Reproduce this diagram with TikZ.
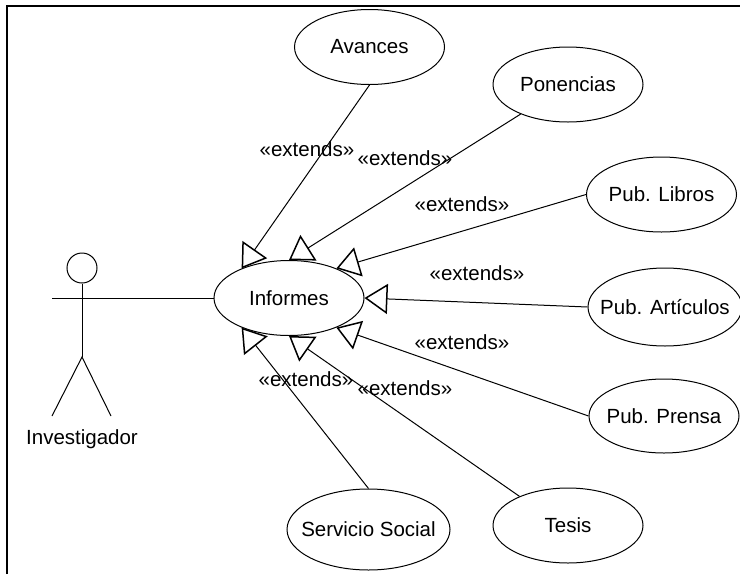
\documentclass[tikz,border=0pt]{standalone}
\usepackage{fontspec}
\setmainfont{Liberation Sans}
\usetikzlibrary{shapes.geometric,arrows.meta}

\begin{document}
\begin{tikzpicture}[x=1pt,y=-1pt,line width=1pt,
	main_node/.style={ellipse,draw,minimum width=150pt,minimum height=75pt,inner sep=-25pt,font=\fontsize{20.5}{24}\selectfont},
	text_node/.style={inner sep=0pt,font=\fontsize{20.5}{24}\selectfont},
	extends_edge/.style={-{Triangle[open,length=23pt,width=30pt,line width=1.5pt]}}]

		\useasboundingbox (0,0) rectangle (740,574);

		% frame
		\coordinate (c1) at (7,574);
		\coordinate (c2) at (7,5.5);
		\coordinate (c3) at (740,5.5);
		\draw[line width=2pt] (c1) -- (c2) -- (c3);

		% use cases
		\node[main_node] (informes) at (289,298){Informes};
		\node[main_node] (avances) at (369.5,47){Avances};
		\node[main_node] (ponencias) at (568,84.5){Ponencias};
		\node[main_node] (libros) at (661.5,194.5){Pub. Libros};
		\node[main_node,minimum width=154pt,minimum height=78pt] (articulos) at (665,307){Pub. Artículos};
		\node[main_node,minimum height=74pt] (prensa) at (664,416){Pub. Prensa};
		\node[main_node] (tesis) at (568,525.5){Tesis};
		\node[main_node,minimum width=163pt,minimum height=81pt] (social) at (368.5,529.5){Servicio Social};

		% actor
		\node[circle,draw,minimum size=30pt,inner sep=0pt] (head) at (82,268){};
		\coordinate (hip) at (82,357);
		\coordinate (arm1) at (52,298);
		\coordinate (arm2) at (111,298);
		\coordinate (leg1) at (52,416);
		\coordinate (leg2) at (111,416);
		\node[text_node] (investigador) at (82,439){Investigador};
		\draw (head) -- (hip);
		\draw (arm1) -- (arm2);
		\draw (leg1) -- (hip) -- (leg2);
		\draw (arm2) -- (informes);

		\path[draw]
		(avances.south) edge[extends_edge] (informes.148)
		(ponencias.-148) edge[extends_edge] (informes.north)
		(libros.west) edge[extends_edge] (informes.32)
		(articulos.west) edge[extends_edge] (informes.east)
		(prensa.west) edge[extends_edge] (informes.-32)
		(tesis.149) edge[extends_edge] (informes.south)
		(social.north) edge[extends_edge] (informes.-148)
		;

		% edge labels
		\node[text_node] (e1) at (307,149){«extends»};
		\node[text_node] (e2) at (405,158){«extends»};
		\node[text_node] (e3) at (462,204){«extends»};
		\node[text_node] (e4) at (477,273){«extends»};
		\node[text_node] (e5) at (462,342){«extends»};
		\node[text_node] (e6) at (405,388){«extends»};
		\node[text_node] (e7) at (306,379){«extends»};

	\end{tikzpicture}
\end{document}
